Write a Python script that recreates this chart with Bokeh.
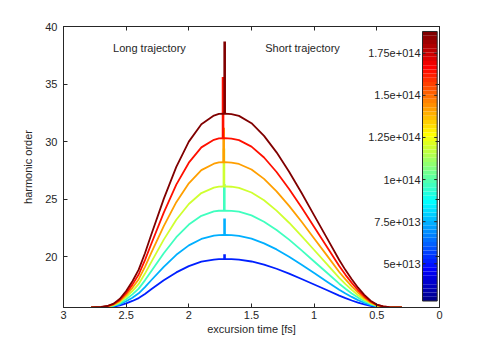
import numpy as np
from bokeh.plotting import figure
from bokeh.models import (Range1d, LinearAxis, FixedTicker, CustomJSTickFormatter,
                          ColumnDataSource, LinearColorMapper)
from bokeh.transform import transform
from bokeh.core.properties import value
from bokeh.embed import file_html
from bokeh.resources import INLINE

# ---------------- data ----------------
excursion_t = [2.78, 2.7, 2.65, 2.6, 2.55, 2.5, 2.45, 2.4, 2.35, 2.3, 2.2, 2.1, 2.0, 1.9, 1.8, 1.76,
               1.715, 1.66, 1.6, 1.5, 1.4, 1.3, 1.2, 1.1, 1.0, 0.9, 0.8, 0.75, 0.7, 0.65, 0.6, 0.55,
               0.5, 0.45, 0.4, 0.3]

order_1 = [15.57, 15.58, 15.60, 15.65, 15.76, 15.93, 16.14, 16.39, 16.75, 17.15, 17.93, 18.62, 19.17,
           19.55, 19.74, 19.77, 19.78, 19.77, 19.73, 19.57, 19.30, 18.94, 18.52, 18.05, 17.57, 17.09,
           16.60, 16.38, 16.18, 16.00, 15.84, 15.72, 15.63, 15.60, 15.58, 15.57]
order_2 = [15.57, 15.59, 15.62, 15.70, 15.85, 16.11, 16.42, 16.80, 17.34, 17.94, 19.10, 20.15, 20.97,
           21.53, 21.82, 21.87, 21.88, 21.86, 21.80, 21.56, 21.15, 20.62, 19.99, 19.29, 18.57, 17.84,
           17.12, 16.79, 16.49, 16.21, 15.98, 15.79, 15.67, 15.61, 15.58, 15.57]
order_3 = [15.57, 15.60, 15.64, 15.74, 15.95, 16.29, 16.71, 17.21, 17.93, 18.73, 20.29, 21.68, 22.78,
           23.54, 23.92, 23.98, 24.00, 23.97, 23.90, 23.58, 23.03, 22.31, 21.47, 20.54, 19.57, 18.61,
           17.64, 17.20, 16.79, 16.43, 16.12, 15.87, 15.70, 15.62, 15.59, 15.57]
order_4 = [15.57, 15.60, 15.65, 15.78, 16.04, 16.47, 16.99, 17.62, 18.52, 19.52, 21.47, 23.20, 24.57,
           25.52, 25.99, 26.08, 26.10, 26.07, 25.97, 25.57, 24.89, 23.99, 22.94, 21.78, 20.57, 19.36,
           18.15, 17.60, 17.10, 16.64, 16.25, 15.94, 15.73, 15.63, 15.59, 15.57]
order_5 = [15.57, 15.61, 15.67, 15.82, 16.14, 16.64, 17.28, 18.03, 19.11, 20.31, 22.64, 24.73, 26.37,
           27.51, 28.07, 28.18, 28.20, 28.16, 28.05, 27.57, 26.75, 25.67, 24.41, 23.02, 21.57, 20.12,
           18.66, 18.01, 17.40, 16.86, 16.39, 16.01, 15.76, 15.65, 15.60, 15.57]
order_6 = [15.57, 15.61, 15.69, 15.87, 16.23, 16.82, 17.56, 18.44, 19.69, 21.09, 23.82, 26.25, 28.16,
           29.49, 30.15, 30.27, 30.30, 30.26, 30.12, 29.56, 28.61, 27.35, 25.88, 24.26, 22.57, 20.87,
           19.18, 18.41, 17.71, 17.07, 16.53, 16.09, 15.79, 15.66, 15.60, 15.57]
order_7 = [15.57, 15.62, 15.70, 15.91, 16.33, 17.00, 17.85, 18.86, 20.29, 21.89, 25.01, 27.79, 29.99,
           31.50, 32.26, 32.40, 32.43, 32.38, 32.23, 31.59, 30.49, 29.06, 27.37, 25.52, 23.58, 21.64,
           19.70, 18.82, 18.02, 17.29, 16.67, 16.16, 15.82, 15.67, 15.60, 15.57]

intensity = [5.08e13, 7.37e13, 9.65e13, 1.194e14, 1.422e14, 1.651e14, 1.879e14]

spike_t = [1.715, 1.715, 1.717, 1.72, 1.722, 1.727, 1.714]
spike_base = [19.78, 21.88, 24.00, 26.10, 28.20, 30.30, 32.43]
spike_top = [20.2, 23.3, 26.3, 29.4, 31.2, 35.6, 38.7]

cb_low, cb_high = 2.79e13, 1.879e14
cb_tick_values = [5e13, 7.5e13, 1e14, 1.25e14, 1.5e14, 1.75e14]
cb_tick_labels = ["5e+013", "7.5e+013", "1e+014", "1.25e+014", "1.5e+014", "1.75e+014"]

x_ticks = [3, 2.5, 2, 1.5, 1, 0.5, 0]
y_ticks = [20, 25, 30, 35, 40]

annot_text = ["Long trajectory", "Short trajectory"]
annot_x = [2.314, 1.093]
annot_y = [38.17, 38.17]

# ---------------- styling / layout ----------------
FONT = "Liberation Sans"
INK = "#262626"
W, H = 477, 338
FRAME_W = 376  # plot frame width in px

def jet64():
    r = [0] * 24 + [i / 16 for i in range(1, 16)] + [1] * 17 + [i / 16 for i in range(15, 7, -1)]
    g = [0] * 8 + [i / 16 for i in range(1, 16)] + [1] * 17 + [i / 16 for i in range(15, 0, -1)] + [0] * 9
    b = [i / 16 for i in range(9, 17)] + [1] * 16 + [i / 16 for i in range(15, 0, -1)] + [0] * 25
    return ["#%02x%02x%02x" % (round(rr * 255), round(gg * 255), round(bb * 255))
            for rr, gg, bb in zip(r, g, b)]

palette = jet64()
mapper = LinearColorMapper(palette=palette, low=cb_low, high=cb_high)

p = figure(width=W, height=H, x_range=Range1d(3, 0), y_range=Range1d(15.57, 40),
           output_backend="svg", toolbar_location=None,
           min_border_left=63, min_border_right=38, min_border_top=26, min_border_bottom=31)
p.background_fill_color = "white"
p.border_fill_color = "white"
p.outline_line_color = INK
p.grid.visible = False

# colorbar coordinate systems (px across the frame, colour value up the frame)
p.extra_x_ranges = {"cbx": Range1d(0, FRAME_W)}
p.extra_y_ranges = {"cby": Range1d(2.406e13, 1.9085e14)}

def style_axis(ax, ticks, labels=True):
    ax.ticker = FixedTicker(ticks=ticks)
    ax.formatter = CustomJSTickFormatter(code="return tick.toString();" if labels else "return '';")
    ax.major_tick_in = 4
    ax.major_tick_out = 0
    ax.minor_tick_line_color = None
    ax.axis_line_color = INK
    ax.major_tick_line_color = INK
    ax.major_label_text_font = FONT
    ax.major_label_text_font_size = "11px"
    ax.major_label_text_color = INK
    ax.axis_label_text_font = FONT
    ax.axis_label_text_font_size = "11px"
    ax.axis_label_text_font_style = "normal"
    ax.axis_label_text_color = INK

style_axis(p.xaxis[0], x_ticks)
style_axis(p.yaxis[0], y_ticks)
p.xaxis[0].axis_label = "excursion time [fs]"
p.yaxis[0].axis_label = "harmonic order"
p.xaxis[0].major_label_standoff = 3
p.xaxis[0].axis_label_standoff = 1
p.yaxis[0].major_label_standoff = 6
p.yaxis[0].axis_label_standoff = 8

top_ax = LinearAxis()
style_axis(top_ax, x_ticks, labels=False)
p.add_layout(top_ax, "above")
right_ax = LinearAxis()
style_axis(right_ax, y_ticks, labels=False)
p.add_layout(right_ax, "right")

# curves
curves = [order_1, order_2, order_3, order_4, order_5, order_6, order_7]
for k, ys in enumerate(curves):
    src = ColumnDataSource(dict(x=excursion_t, y=ys))
    col = palette[min(int((intensity[k] - cb_low) / (cb_high - cb_low) * len(palette)), len(palette) - 1)]
    p.line("x", "y", source=src, line_color=col, line_width=1.8, line_join="round")
    p.segment(x0=[spike_t[k]], y0=[spike_base[k]], x1=[spike_t[k]], y1=[spike_top[k]],
              line_color=col, line_width=2.6)

# colorbar
cb_left, cb_right = 359.0, 373.7
edges = np.linspace(cb_low, cb_high, len(palette) + 1)
cb_src = ColumnDataSource(dict(bottom=edges[:-1], top=edges[1:],
                               mid=(edges[:-1] + edges[1:]) / 2))
p.quad(left=cb_left, right=cb_right, bottom="bottom", top="top", source=cb_src,
       fill_color=transform("mid", mapper), line_color=None,
       x_range_name="cbx", y_range_name="cby")
p.quad(left=[cb_left], right=[cb_right], bottom=[cb_low], top=[cb_high],
       fill_color=None, line_color=INK, line_width=1,
       x_range_name="cbx", y_range_name="cby")
n = len(cb_tick_values)
p.segment(x0=[cb_left] * n, x1=[cb_left + 3] * n, y0=cb_tick_values, y1=cb_tick_values,
          line_color=INK, line_width=1, x_range_name="cbx", y_range_name="cby")
p.segment(x0=[cb_right - 3] * n, x1=[cb_right] * n, y0=cb_tick_values, y1=cb_tick_values,
          line_color=INK, line_width=1, x_range_name="cbx", y_range_name="cby")
p.text(x=[cb_left - 2] * n, y=cb_tick_values, text=cb_tick_labels,
       text_font=value(FONT), text_font_size="11px", text_color=INK,
       text_align="right", text_baseline="middle",
       x_range_name="cbx", y_range_name="cby")

# annotations
p.text(x=annot_x, y=annot_y, text=annot_text, text_font=value(FONT),
       text_font_size="11px", text_color=INK, text_align="center", text_baseline="middle")

open("out.html", "w").write(file_html(p, INLINE))
